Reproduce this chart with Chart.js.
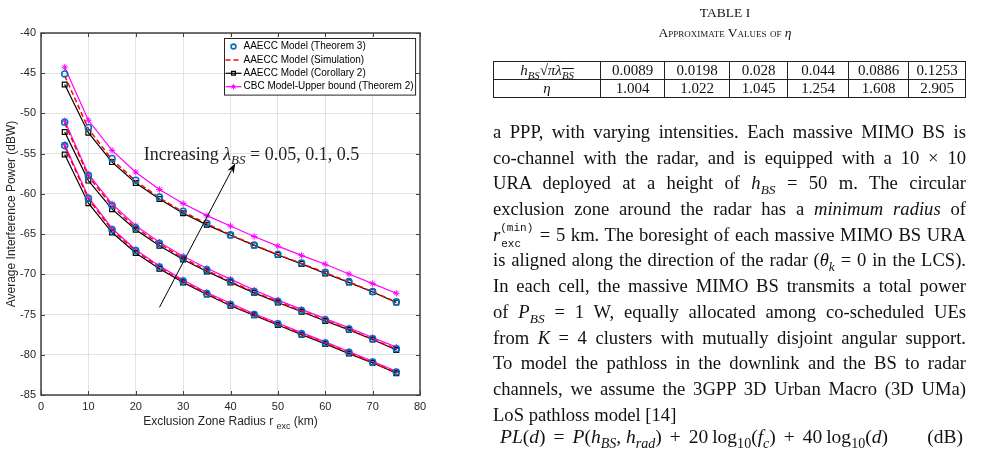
<!DOCTYPE html>
<html>
<head>
<meta charset="utf-8">
<script src="https://cdn.jsdelivr.net/npm/chart.js@4.4.1/dist/chart.umd.min.js"></script>
<style>
  html, body { margin: 0; padding: 0; background: #fff; }
  body { width: 1007px; height: 450px; position: relative; overflow: hidden; }
  #chart-box { position: absolute; left: 0; top: 0; width: 440px; height: 450px; }
  #right { position: absolute; left: 0; top: 0; width: 1007px; height: 450px; font-family: "Liberation Serif", "Times New Roman", serif; color: #111; }
  .ttl { position: absolute; left: 450px; width: 550px; text-align: center; font-size: 13.5px; line-height: 16px; }
  .cap { font-variant: small-caps; }
  .cap i { font-variant: normal; }
  #tbl { position: absolute; left: 493px; top: 61px; width: 473px; border-collapse: collapse; font-size: 15px; }
  #tbl td { border: 1px solid #222; height: 17px; padding: 0; text-align: center; line-height: 17px; }
  #para { position: absolute; left: 493px; top: 119px; width: 473px; font-size: 18.6px; }
  .ln { height: 25.7px; line-height: 25.7px; white-space: nowrap; text-align: left; }
  sub, sup { font-size: 0.72em; line-height: 0; }
  .mono { font-family: "Liberation Mono", "DejaVu Sans Mono", monospace; font-size: 11px; line-height: 11px; }
  .ss { display: inline-block; position: relative; width: 34px; height: 12px; }
  .ss .up { position: absolute; left: 0; top: -6px; }
  .ss .dn { position: absolute; left: 1px; top: 10px; }
  #eq { position: absolute; left: 500px; top: 424px; width: 463px; font-size: 19.5px; line-height: 25px; display: flex; justify-content: space-between; white-space: nowrap; }
  .op { margin: 0 8px; }
</style>
</head>
<body>
<div id="chart-box"><canvas id="chart"></canvas></div>

<div id="right">
  <div class="ttl" style="top:5px">TABLE I</div>
  <div class="ttl cap" style="top:25px">Approximate Values of <i>η</i></div>
  <table id="tbl">
    <tr>
      <td style="width:106px"><i>h</i><sub><i>BS</i></sub>√<span style="text-decoration:overline"><i>πλ</i><sub><i>BS</i></sub></span></td>
      <td style="width:63px">0.0089</td><td style="width:64px">0.0198</td><td style="width:57px">0.028</td>
      <td style="width:60px">0.044</td><td style="width:59px">0.0886</td><td>0.1253</td>
    </tr>
    <tr>
      <td><i>η</i></td><td>1.004</td><td>1.022</td><td>1.045</td><td>1.254</td><td>1.608</td><td>2.905</td>
    </tr>
  </table>

  <div id="para">
    <div class="ln">a PPP, with varying intensities. Each massive MIMO BS is</div>
    <div class="ln">co-channel with the radar, and is equipped with a 10 × 10</div>
    <div class="ln">URA deployed at a height of <i>h</i><sub><i>BS</i></sub> = 50 m. The circular</div>
    <div class="ln">exclusion zone around the radar has a <i>minimum radius</i> of</div>
    <div class="ln"><i>r</i><span class="ss"><span class="mono up">(min)</span><span class="mono dn">exc</span></span> = 5 km. The boresight of each massive MIMO BS URA</div>
    <div class="ln">is aligned along the direction of the radar (<i>θ</i><sub><i>k</i></sub> = 0 in the LCS).</div>
    <div class="ln">In each cell, the massive MIMO BS transmits a total power</div>
    <div class="ln">of <i>P</i><sub><i>BS</i></sub> = 1 W, equally allocated among co-scheduled UEs</div>
    <div class="ln">from <i>K</i> = 4 clusters with mutually disjoint angular support.</div>
    <div class="ln">To model the pathloss in the downlink and the BS to radar</div>
    <div class="ln">channels, we assume the 3GPP 3D Urban Macro (3D UMa)</div>
    <div class="ln last">LoS pathloss model [14]</div>
  </div>
  <div id="eq">
    <span><i>PL</i>(<i>d</i>)<span class="op">=</span><i>P</i>(<i>h</i><sub><i>BS</i></sub>, <i>h</i><sub><i>rad</i></sub>)<span class="op">+</span>20&thinsp;log<sub>10</sub>(<i>f</i><sub><i>c</i></sub>)<span class="op">+</span>40&thinsp;log<sub>10</sub>(<i>d</i>)</span>
    <span>(dB)</span>
  </div>
</div>

<script>
const X_KM = [5, 10, 15, 20, 25, 30, 35, 40, 45, 50, 55, 60, 65, 70, 75];
const X_TICKS = [0, 10, 20, 30, 40, 50, 60, 70, 80];
const Y_TICKS = [-85, -80, -75, -70, -65, -60, -55, -50, -45, -40];

const SERIES_NAMES = [
    'AAECC Model (Theorem 3)',
    'AAECC Model (Simulation)',
    'AAECC Model (Corollary 2)',
    'CBC Model-Upper bound (Theorem 2)'
];

// lambda_BS = 0.5 (upper group)
const THM3_HI = [-45.1, -51.75, -55.6, -58.3, -60.4, -62.15, -63.65, -65.1, -66.35, -67.5, -68.6, -69.75, -70.9, -72.15, -73.4];
const SIM_HI  = [-45.3, -51.9, -55.75, -58.4, -60.5, -62.25, -63.7, -65.1, -66.35, -67.55, -68.65, -69.8, -70.95, -72.15, -73.45];
const COR2_HI = [-46.4, -52.4, -56.05, -58.65, -60.65, -62.4, -63.85, -65.15, -66.4, -67.6, -68.7, -69.9, -71.0, -72.2, -73.5];
const CBC_HI  = [-44.25, -50.85, -54.6, -57.3, -59.45, -61.2, -62.7, -64.0, -65.3, -66.5, -67.65, -68.75, -69.95, -71.15, -72.35];

// lambda_BS = 0.1 (middle group)
const THM3_MID = [-51.1, -57.7, -61.45, -64.2, -66.15, -68.0, -69.45, -70.85, -72.15, -73.35, -74.5, -75.65, -76.8, -78.0, -79.25];
const SIM_MID  = [-51.2, -57.8, -61.5, -64.25, -66.2, -68.0, -69.5, -70.9, -72.2, -73.4, -74.55, -75.7, -76.85, -78.05, -79.3];
const COR2_MID = [-52.3, -58.35, -61.9, -64.45, -66.45, -68.15, -69.65, -71.0, -72.3, -73.5, -74.65, -75.8, -76.9, -78.1, -79.4];
const CBC_MID  = [-50.9, -57.55, -61.25, -63.95, -66.0, -67.75, -69.25, -70.6, -71.95, -73.2, -74.35, -75.5, -76.65, -77.85, -79.05];

// lambda_BS = 0.05 (lower group)
const THM3_LO = [-54.0, -60.55, -64.45, -67.05, -69.1, -70.85, -72.4, -73.75, -75.0, -76.15, -77.4, -78.55, -79.7, -80.9, -82.15];
const SIM_LO  = [-54.1, -60.6, -64.5, -67.1, -69.15, -70.9, -72.4, -73.8, -75.05, -76.2, -77.4, -78.55, -79.75, -80.95, -82.2];
const COR2_LO = [-55.1, -61.15, -64.8, -67.35, -69.3, -71.0, -72.5, -73.9, -75.1, -76.3, -77.5, -78.65, -79.85, -81.0, -82.3];
const CBC_LO  = [-53.85, -60.4, -64.3, -66.95, -68.95, -70.7, -72.25, -73.6, -74.9, -76.05, -77.25, -78.4, -79.6, -80.8, -82.05];

// annotation (data coordinates)
const ARROW_FROM = [25, -74.1];
const ARROW_TO = [41, -56.2];
const NOTE_AT = [21.7, -55];

const AXIS_FONT = 'Arial, "Liberation Sans", Helvetica, sans-serif';
const TEXT_COLOR = '#262626';

// justify each text line to the column width
document.querySelectorAll('.ln').forEach(el => {
    const inner = document.createElement('span');
    while (el.firstChild) inner.appendChild(el.firstChild);
    el.appendChild(inner);
    if (el.classList.contains('last')) return;
    const natural = inner.getBoundingClientRect().width;
    const gaps = (inner.textContent.match(/ /g) || []).length;
    if (gaps) el.style.wordSpacing = ((el.clientWidth - natural) / gaps) + 'px';
});

const seriesStyle = [
    { borderColor: '#0072BD', backgroundColor: 'rgba(0,0,0,0)', showLine: false, pointStyle: 'circle', pointRadius: 3, pointBorderWidth: 1.6, order: 0 },
    { borderColor: '#FF0000', borderWidth: 1.5, borderDash: [5, 3], pointRadius: 0, order: 1 },
    { borderColor: '#000000', backgroundColor: 'rgba(0,0,0,0)', borderWidth: 1.2, pointStyle: 'rect', pointRadius: 3.4, pointBorderWidth: 1.2, order: 2 },
    { borderColor: '#FF00FF', backgroundColor: 'rgba(0,0,0,0)', borderWidth: 1.2, pointStyle: 'star', pointRadius: 3.2, pointBorderWidth: 1, order: 3 }
];

const groups = [
    [THM3_HI, SIM_HI, COR2_HI, CBC_HI],
    [THM3_MID, SIM_MID, COR2_MID, CBC_MID],
    [THM3_LO, SIM_LO, COR2_LO, CBC_LO]
];

const datasets = [];
groups.forEach(g => {
    g.forEach((ys, k) => {
        datasets.push(Object.assign({
            label: SERIES_NAMES[k],
            data: ys.map((y, i) => ({ x: X_KM[i], y: y })),
            tension: 0,
            fill: false
        }, seriesStyle[k]));
    });
});

function drawArrow(ctx, x0, y0, x1, y1) {
    const ang = Math.atan2(y1 - y0, x1 - x0);
    const len = 10, half = 3.5;
    ctx.strokeStyle = '#000'; ctx.fillStyle = '#000'; ctx.lineWidth = 1;
    ctx.beginPath();
    ctx.moveTo(x0, y0);
    ctx.lineTo(x1 - Math.cos(ang) * len * 0.8, y1 - Math.sin(ang) * len * 0.8);
    ctx.stroke();
    ctx.beginPath();
    ctx.moveTo(x1, y1);
    ctx.lineTo(x1 - len * Math.cos(ang) + half * Math.sin(ang), y1 - len * Math.sin(ang) - half * Math.cos(ang));
    ctx.lineTo(x1 - len * 0.7 * Math.cos(ang), y1 - len * 0.7 * Math.sin(ang));
    ctx.lineTo(x1 - len * Math.cos(ang) - half * Math.sin(ang), y1 - len * Math.sin(ang) + half * Math.cos(ang));
    ctx.closePath();
    ctx.fill();
}

function drawRuns(ctx, runs, x, base) {
    runs.forEach(r => {
        ctx.font = r.font;
        ctx.fillText(r.t, x, base + r.dy);
        x += ctx.measureText(r.t).width;
    });
}

function runsWidth(ctx, runs) {
    let w = 0;
    runs.forEach(r => { ctx.font = r.font; w += ctx.measureText(r.t).width; });
    return w;
}

const matlabLook = {
    id: 'matlabLook',
    afterDatasetsDraw(chart) {
        const { ctx, chartArea: a, scales: { x, y } } = chart;
        ctx.save();

        // arrow + note
        drawArrow(ctx, x.getPixelForValue(ARROW_FROM[0]), y.getPixelForValue(ARROW_FROM[1]),
                  x.getPixelForValue(ARROW_TO[0]), y.getPixelForValue(ARROW_TO[1]));
        ctx.fillStyle = '#222';
        ctx.textBaseline = 'alphabetic';
        ctx.textAlign = 'left';
        const serif = '"Liberation Serif", "Times New Roman", serif';
        drawRuns(ctx, [
            { t: 'Increasing ', font: '18px ' + serif, dy: 0 },
            { t: 'λ', font: 'italic 18px ' + serif, dy: 0 },
            { t: 'BS', font: 'italic 13px ' + serif, dy: 4 },
            { t: ' = 0.05, 0.1, 0.5', font: '18px ' + serif, dy: 0 }
        ], x.getPixelForValue(NOTE_AT[0]), y.getPixelForValue(NOTE_AT[1]) + 6);

        // axes box with inward ticks
        ctx.strokeStyle = '#404040';
        ctx.lineWidth = 1.5;
        ctx.strokeRect(a.left, a.top, a.right - a.left, a.bottom - a.top);
        ctx.lineWidth = 1;
        ctx.beginPath();
        X_TICKS.forEach(v => {
            const px = Math.round(x.getPixelForValue(v)) + 0.5;
            ctx.moveTo(px, a.bottom); ctx.lineTo(px, a.bottom - 4);
            ctx.moveTo(px, a.top); ctx.lineTo(px, a.top + 4);
        });
        Y_TICKS.forEach(v => {
            const py = Math.round(y.getPixelForValue(v)) + 0.5;
            ctx.moveTo(a.left, py); ctx.lineTo(a.left + 4, py);
            ctx.moveTo(a.right, py); ctx.lineTo(a.right - 4, py);
        });
        ctx.stroke();

        // legend (top-right, inside axes)
        const lgRight = a.right - 5, lgTop = a.top + 5.5, rowH = 13.4;
        ctx.font = '10px ' + AXIS_FONT;
        const textW = Math.max(...SERIES_NAMES.map(s => ctx.measureText(s).width));
        const lgW = textW + 21, lgH = rowH * SERIES_NAMES.length + 3;
        const lgLeft = Math.round(lgRight - lgW) + 0.5;
        ctx.fillStyle = '#fff';
        ctx.fillRect(lgLeft, lgTop, lgW, lgH);
        ctx.strokeStyle = '#262626';
        ctx.lineWidth = 1;
        ctx.strokeRect(lgLeft, lgTop, lgW, lgH);
        SERIES_NAMES.forEach((name, k) => {
            const ds = chart.data.datasets[k];
            const cy = lgTop + 8 + k * rowH;
            if (ds.showLine !== false) {
                ctx.save();
                ctx.strokeStyle = ds.borderColor;
                ctx.lineWidth = ds.borderWidth;
                ctx.setLineDash(ds.borderDash || []);
                ctx.beginPath();
                ctx.moveTo(lgLeft + 1, cy); ctx.lineTo(lgLeft + 17, cy);
                ctx.stroke();
                ctx.restore();
            }
            if (ds.pointRadius > 0) {
                ctx.save();
                ctx.strokeStyle = ds.borderColor;
                ctx.fillStyle = 'rgba(0,0,0,0)';
                ctx.lineWidth = ds.pointBorderWidth;
                Chart.helpers.drawPoint(ctx, { pointStyle: ds.pointStyle, radius: ds.pointRadius * 0.8, rotation: 0, borderWidth: ds.pointBorderWidth }, lgLeft + 9, cy);
                ctx.restore();
            }
            ctx.fillStyle = '#000';
            ctx.font = '10px ' + AXIS_FONT;
            ctx.textBaseline = 'middle';
            ctx.fillText(name, lgLeft + 19, cy);
        });
        ctx.restore();
    },
    afterDraw(chart) {
        const { ctx, chartArea: a } = chart;
        ctx.save();
        ctx.fillStyle = TEXT_COLOR;
        ctx.textBaseline = 'alphabetic';
        ctx.textAlign = 'left';
        // x title with subscript
        const xRuns = [
            { t: 'Exclusion Zone Radius r ', font: '12px ' + AXIS_FONT, dy: 0 },
            { t: 'exc', font: '9px ' + AXIS_FONT, dy: 4 },
            { t: ' (km)', font: '12px ' + AXIS_FONT, dy: 0 }
        ];
        const w = runsWidth(ctx, xRuns);
        drawRuns(ctx, xRuns, (a.left + a.right) / 2 - w / 2, a.bottom + 30);
        // y title
        ctx.translate(12, (a.top + a.bottom) / 2);
        ctx.rotate(-Math.PI / 2);
        ctx.textAlign = 'center';
        ctx.textBaseline = 'middle';
        ctx.font = '12px ' + AXIS_FONT;
        ctx.fillText('Average Interference Power (dBW)', 0, 0);
        ctx.restore();
    }
};

const tickFont = { family: AXIS_FONT, size: 11 };

new Chart(document.getElementById('chart'), {
    type: 'line',
    data: { datasets: datasets },
    options: {
        responsive: true,
        maintainAspectRatio: false,
        animation: false,
        devicePixelRatio: 1,
        layout: { padding: { top: 33, right: 20, left: 0, bottom: 0 } },
        plugins: { legend: { display: false }, tooltip: { enabled: false } },
        scales: {
            x: {
                type: 'linear', min: 0, max: 80,
                afterBuildTicks: s => { s.ticks = X_TICKS.map(v => ({ value: v })); },
                afterFit: s => { s.height = 55; },
                grid: { color: '#e2e2e2', lineWidth: 1, drawTicks: false },
                border: { display: false },
                ticks: { font: tickFont, color: TEXT_COLOR, padding: 5, maxRotation: 0 }
            },
            y: {
                type: 'linear', min: -85, max: -40,
                afterBuildTicks: s => { s.ticks = Y_TICKS.map(v => ({ value: v })); },
                afterFit: s => { s.width = 41; },
                grid: { color: '#e2e2e2', lineWidth: 1, drawTicks: false },
                border: { display: false },
                ticks: { font: tickFont, color: TEXT_COLOR, padding: 5 }
            }
        }
    },
    plugins: [matlabLook]
});
</script>
</body>
</html>
